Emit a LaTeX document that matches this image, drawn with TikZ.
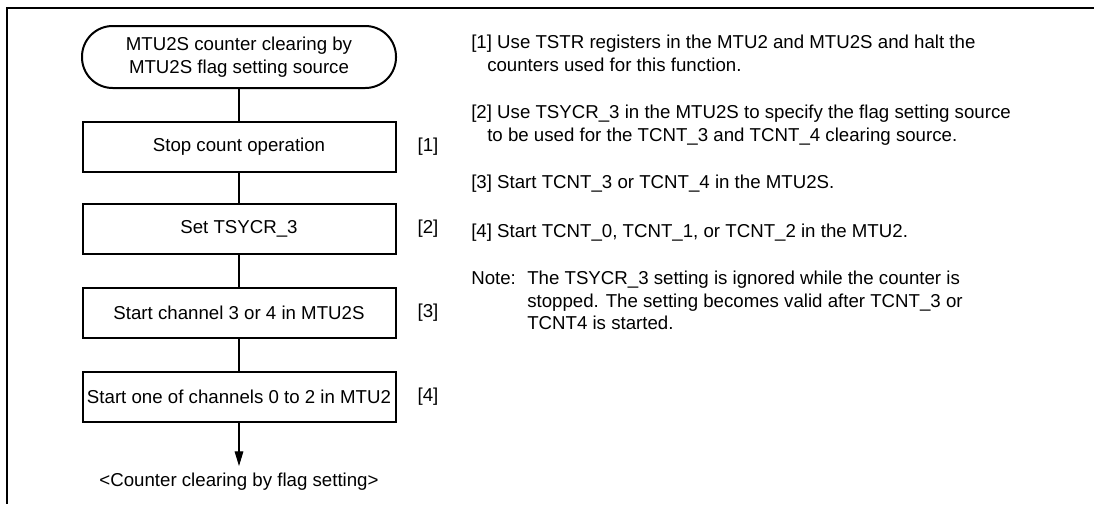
\documentclass[tikz,border=0pt]{standalone}
\usepackage{fontspec}
\setmainfont{Liberation Sans}
\usetikzlibrary{arrows.meta}
\begin{document}
\begin{tikzpicture}[x=0.75pt,y=-0.75pt,
  every node/.style={font=\fontsize{14}{17}\selectfont, inner sep=0pt},
  stepbox/.style={draw, line width=1.5pt, minimum width=313*0.75pt, minimum height=50*0.75pt},
  termbox/.style={draw, line width=1.5pt, rounded corners=23pt, minimum width=314*0.75pt, minimum height=62*0.75pt, align=center},
  conn/.style={line width=0.8pt},
  frameline/.style={line width=2.2pt},
  txt/.style={anchor=base west}]
\useasboundingbox (0,0) rectangle (1094,504);
% frame
\coordinate (ftl) at (7,8);
\coordinate (ftr) at (1094,8);
\coordinate (fbl) at (7,504);
\draw[frameline] (ftr) -- (ftl) -- (fbl);
% flowchart
\node[termbox] (term) at (239,57) {MTU2S counter clearing by\\MTU2S flag setting source};
\node[stepbox] (b1) at (239,147) {Stop count operation};
\node[stepbox] (b2) at (239,229) {Set TSYCR\_3};
\node[stepbox] (b3) at (239,313) {Start channel 3 or 4 in MTU2S};
\node[stepbox] (b4) at (239,397) {Start one of channels 0 to 2 in MTU2};
\coordinate (tip) at (239,466);
\node (endtxt) at (239,482) {<Counter clearing by flag setting>};
\draw[conn] (term) -- (b1);
\draw[conn] (b1) -- (b2);
\draw[conn] (b2) -- (b3);
\draw[conn] (b3) -- (b4);
\draw[conn, -{Triangle[length=11pt,width=6.5pt]}] (b4) -- (tip);
% step labels
\node (l1) at (428,147) {[1]};
\node (l2) at (428,229) {[2]};
\node (l3) at (428,313) {[3]};
\node (l4) at (428,397) {[4]};
% explanations
\node[txt] (t1a) at (471,48) {[1] Use TSTR registers in the MTU2 and MTU2S and halt the};
\node[txt] (t1b) at (487,71) {counters used for this function.};
\node[txt] (t2a) at (471,118) {[2] Use TSYCR\_3 in the MTU2S to specify the flag setting source};
\node[txt] (t2b) at (487,141) {to be used for the TCNT\_3 and TCNT\_4 clearing source.};
\node[txt] (t3) at (471,188) {[3] Start TCNT\_3 or TCNT\_4 in the MTU2S.};
\node[txt] (t4) at (471,237) {[4] Start TCNT\_0, TCNT\_1, or TCNT\_2 in the MTU2.};
\node[txt] (n1) at (471,284) {Note:};
\node[txt] (n2) at (527,284) {The TSYCR\_3 setting is ignored while the counter is};
\node[txt] (n3) at (527,307) {stopped. The setting becomes valid after TCNT\_3 or};
\node[txt] (n4) at (527,329) {TCNT4 is started.};
\end{tikzpicture}
\end{document}
